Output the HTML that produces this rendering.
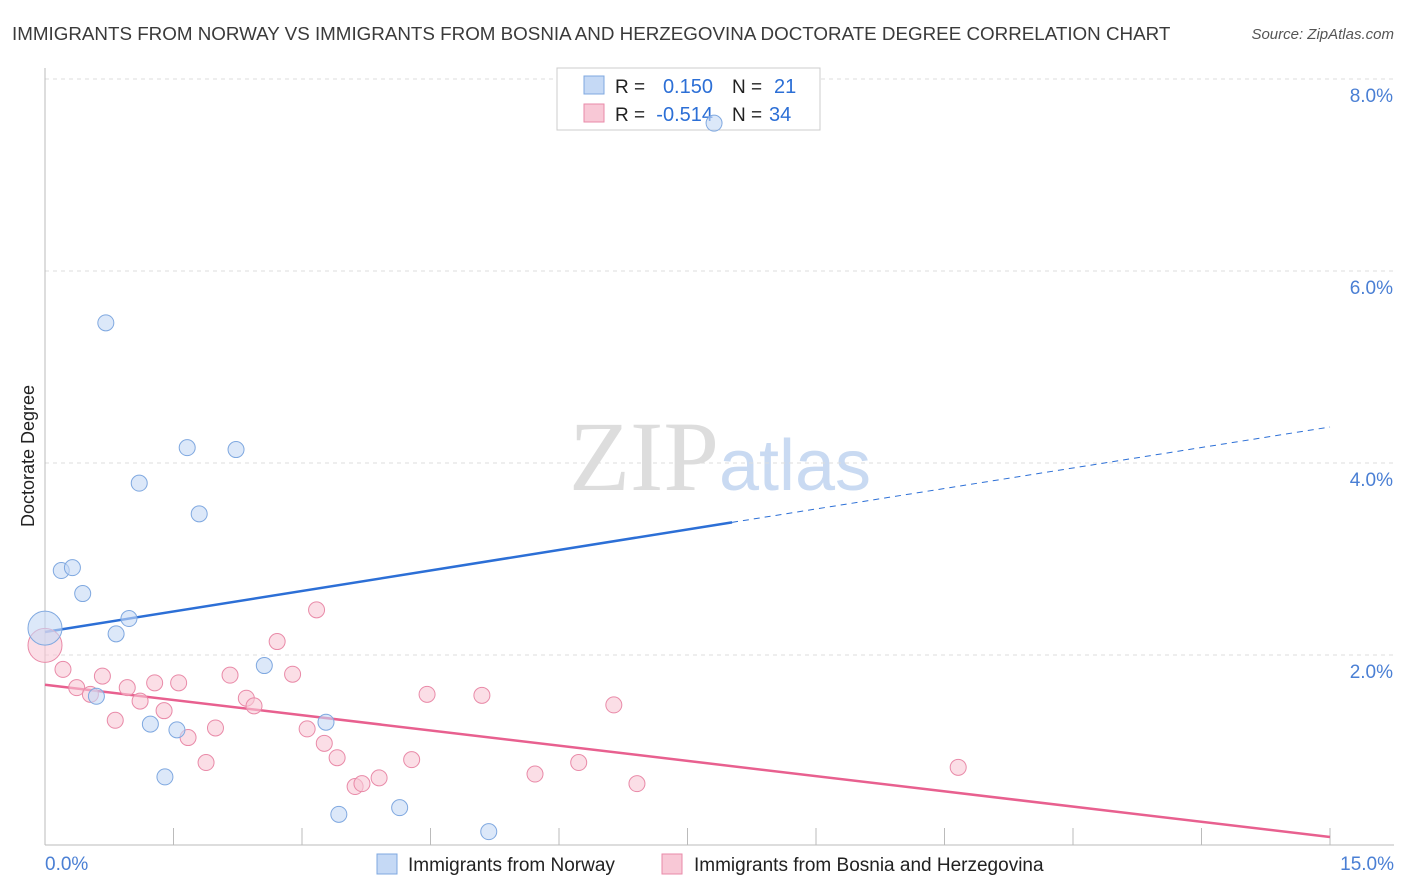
<!DOCTYPE html>
<html><head><meta charset="utf-8"><style>
body{margin:0;background:#fff;font-family:"Liberation Sans",sans-serif;}
svg{display:block}
</style></head><body>
<svg id="chart" width="1406" height="892">
<text x="12" y="40" font-size="18.8" fill="#3a3a3a">IMMIGRANTS FROM NORWAY VS IMMIGRANTS FROM BOSNIA AND HERZEGOVINA DOCTORATE DEGREE CORRELATION CHART</text>
<text x="1394" y="39" font-size="15" fill="#555" font-style="italic" text-anchor="end">Source: ZipAtlas.com</text>
<text x="720" y="490" font-size="100" fill="#ddd" text-anchor="middle" font-family="Liberation Serif,serif">ZIP<tspan fill="#c9daf2" font-family="Liberation Sans,sans-serif" font-size="72">atlas</tspan></text>
<text transform="translate(34,456) rotate(-90)" font-size="18" fill="#222" text-anchor="middle">Doctorate Degree</text>
<g id="grid"></g><g id="axes"></g>
<g>
<rect x="557" y="68" width="263" height="62" fill="#fff" stroke="#ccc"/>
<rect x="584" y="76" width="20" height="18" fill="#c5d9f5" stroke="#7fa8e0"/>
<rect x="584" y="104" width="20" height="18" fill="#f8c8d6" stroke="#e98aa8"/>
<text x="615" y="93" font-size="19" fill="#222">R =</text>
<text x="713" y="93" font-size="20" fill="#2c6fd6" text-anchor="end">0.150</text>
<text x="732" y="93" font-size="19" fill="#222">N =</text>
<text x="774" y="93" font-size="20" fill="#2c6fd6">21</text>
<text x="615" y="121" font-size="19" fill="#222">R =</text>
<text x="713" y="121" font-size="20" fill="#2c6fd6" text-anchor="end">-0.514</text>
<text x="732" y="121" font-size="19" fill="#222">N =</text>
<text x="769" y="121" font-size="20" fill="#2c6fd6">34</text>
</g>
<g id="trends"></g><g id="points"></g>
<g>
<rect x="377" y="854" width="20" height="20" fill="#c5d9f5" stroke="#7fa8e0"/>
<text x="408" y="871" font-size="19" fill="#222">Immigrants from Norway</text>
<rect x="662" y="854" width="20" height="20" fill="#f8c8d6" stroke="#e98aa8"/>
<text x="694" y="871" font-size="19" fill="#222">Immigrants from Bosnia and Herzegovina</text>
</g>
</svg>
<script>
const yTicks=[2,4,6,8];
const yTickLabels=["2.0%","4.0%","6.0%","8.0%"];
const xTickLabels=["0.0%","15.0%"];
const norwayX=[0.71,1.66,2.23,1.10,1.80,0.19,0.32,0.44,0.98,0.83,0,2.56,0.60,1.23,1.54,3.28,1.40,3.43,4.14,5.18,7.81];
const norwayY=[5.46,4.16,4.14,3.79,3.47,2.88,2.91,2.64,2.38,2.22,2.28,1.89,1.57,1.28,1.22,1.30,0.73,0.34,0.41,0.16,7.54];
const norwayBig=[0,0,0,0,0,0,0,0,0,0,1,0,0,0,0,0,0,0,0,0,0];
const bosniaX=[0,0.21,0.37,0.53,0.67,0.82,0.96,1.11,1.28,1.39,1.56,1.67,1.88,1.99,2.16,2.35,2.44,2.71,2.89,3.06,3.17,3.26,3.41,3.62,3.70,3.90,4.28,4.46,5.10,5.72,6.23,6.64,6.91,10.66];
const bosniaY=[2.10,1.85,1.66,1.59,1.78,1.32,1.66,1.52,1.71,1.42,1.71,1.14,0.88,1.24,1.79,1.55,1.47,2.14,1.80,1.23,2.47,1.08,0.93,0.63,0.66,0.72,0.91,1.59,1.58,0.76,0.88,1.48,0.66,0.83];
const bosniaBig=[1,0,0,0,0,0,0,0,0,0,0,0,0,0,0,0,0,0,0,0,0,0,0,0,0,0,0,0,0,0,0,0,0,0];
const norwayTrend=[2.24,4.375];
const bosniaTrend=[1.69,0.104];
const xMax=15;
const X=v=>45+v*(1285/xMax);
const Y=v=>847-v*96;
const NS="http://www.w3.org/2000/svg";
function mk(t,a,p){const e=document.createElementNS(NS,t);for(const k in a)e.setAttribute(k,a[k]);p.appendChild(e);return e;}
const grid=document.getElementById('grid'),axes=document.getElementById('axes'),tr=document.getElementById('trends'),pts=document.getElementById('points');
yTicks.forEach((v,i)=>{
 const l=mk('line',{x1:45,x2:1394,y1:Y(v),y2:Y(v),stroke:'#ddd','stroke-dasharray':'4,4'},grid);
 
 
 const t=mk('text',{x:1393,y:Y(v)+23,'font-size':19,fill:'#4a7fd4','text-anchor':'end'},axes);
 t.textContent=yTickLabels[i];
 
 
});
const ax=mk('line',{x1:45,x2:45,y1:68,y2:845,stroke:'#bbb'},axes);


const bx=mk('line',{x1:45,x2:1394,y1:845,y2:845,stroke:'#bbb'},axes);


for(let i=0;i<=10;i++){const tk=mk('line',{x1:X(i*1.5),x2:X(i*1.5),y1:828,y2:845,stroke:'#bbb'},axes);
 
 }
[[0,'start',45],[15,'end',1394]].forEach((d,i)=>{const t=mk('text',{x:d[2],y:870,'font-size':19,fill:'#4a7fd4','text-anchor':d[1]},axes);t.textContent=xTickLabels[i];
 
 });
function draw(xs,ys,big,fill,stroke,name){xs.forEach((x,i)=>{const c=mk('circle',{cx:X(x),cy:Y(ys[i]),r:big[i]?17:8,fill:fill,'fill-opacity':0.6,stroke:stroke,'stroke-width':1},pts);
 
 });}
draw(bosniaX,bosniaY,bosniaBig,'#f8c8d6','#e98aa8','bosnia-point');
draw(norwayX,norwayY,norwayBig,'#c5d9f5','#7fa8e0','norway-point');
const split=8.02,nt=v=>norwayTrend[0]+(norwayTrend[1]-norwayTrend[0])*v/xMax;
const l1=mk('line',{x1:X(0),y1:Y(nt(0)),x2:X(split),y2:Y(nt(split)),stroke:'#2c6fd6','stroke-width':2.5},tr);


const l2=mk('line',{x1:X(split),y1:Y(nt(split)),x2:X(xMax),y2:Y(nt(xMax)),stroke:'#2c6fd6','stroke-width':1,'stroke-dasharray':'6,5'},tr);


const l3=mk('line',{x1:X(0),y1:Y(bosniaTrend[0]),x2:X(xMax),y2:Y(bosniaTrend[1]),stroke:'#e8608f','stroke-width':2.5},tr);


</script>
</body></html>
